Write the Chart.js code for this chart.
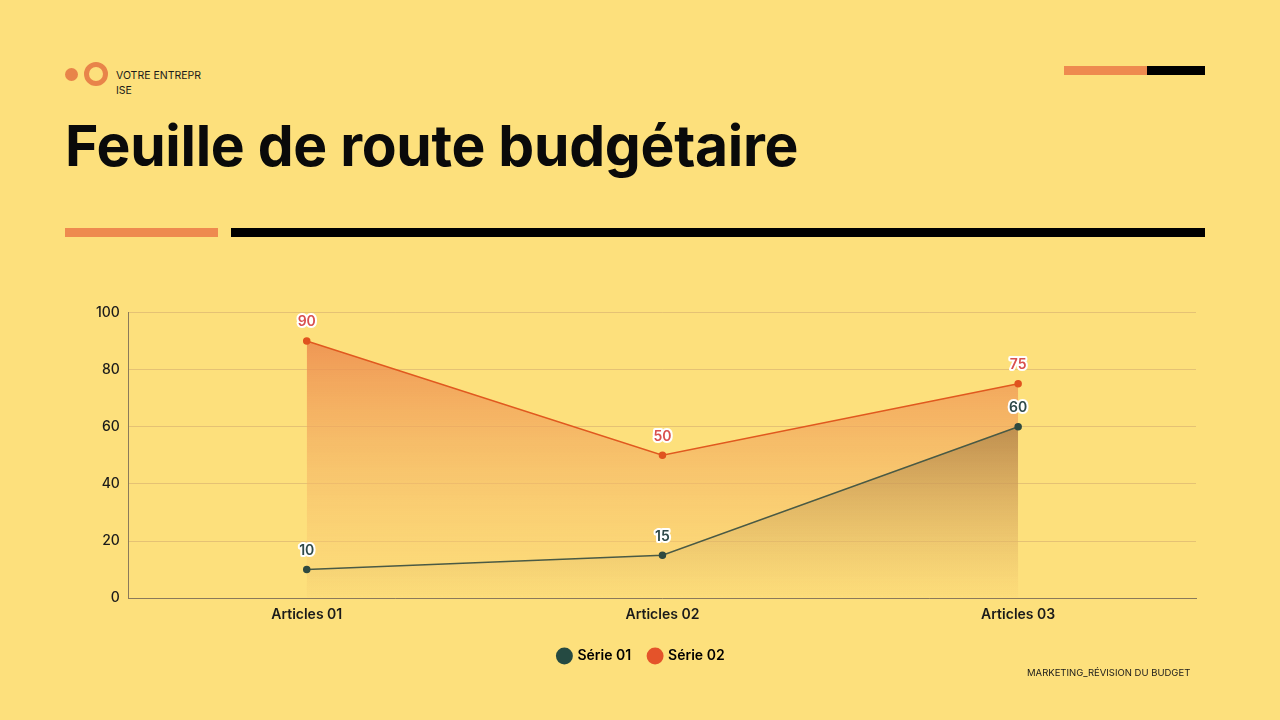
<!DOCTYPE html>
<html>
<head>
<meta charset="utf-8">
<script src="https://cdn.jsdelivr.net/npm/chart.js@4/dist/chart.umd.min.js"></script>
<style>
  body { margin: 0; width: 1280px; height: 720px; background: #fde07c; position: relative; overflow: hidden; font-family: Inter, "Noto Sans", sans-serif; }
  .dot { position: absolute; left: 65px; top: 68px; width: 13px; height: 13px; border-radius: 50%; background: #e8844a; }
  .ring { position: absolute; left: 84px; top: 62px; width: 14px; height: 14px; border-radius: 50%; border: 5px solid #e8844a; }
  .brand { position: absolute; left: 116px; top: 68px; font-size: 10.5px; line-height: 15px; color: #1a1a1a; width: 100px; }
  .titre { position: absolute; left: 65px; top: 111px; font-size: 57px; font-weight: 700; color: #0a0a0a; letter-spacing: -0.3px; margin: 0; line-height: 70px; }
  .barre { position: absolute; height: 9px; }
  .pied { position: absolute; left: 1027px; top: 667px; font-size: 9.5px; color: #1a1a1a; }
  #zone { position: absolute; left: 87px; top: 295px; width: 1123px; height: 378px; }
</style>
</head>
<body>
<div class="dot"></div>
<div class="ring"></div>
<div class="brand">VOTRE ENTREPR<br>ISE</div>
<div class="barre" style="left:1064px;top:66px;width:83px;background:#ee8a4f"></div>
<div class="barre" style="left:1147px;top:66px;width:58px;background:#000"></div>
<h1 class="titre">Feuille de route budgétaire</h1>
<div class="barre" style="left:65px;top:228px;width:153px;background:#ee8a4f"></div>
<div class="barre" style="left:231px;top:228px;width:974px;background:#000"></div>
<div id="zone"><canvas id="grafica"></canvas></div>
<div class="pied">MARKETING_RÉVISION DU BUDGET</div>
<script>
const categories = ["Articles 01", "Articles 02", "Articles 03"];
const serie01 = [10, 15, 60];
const serie02 = [90, 50, 75];
const ticksY = [0, 20, 40, 60, 80, 100];

function degrade(ctx, area, haut, bas) {
  const g = ctx.createLinearGradient(0, area.top, 0, area.bottom);
  g.addColorStop(0, haut);
  g.addColorStop(1, bas);
  return g;
}

const etiquettes = {
  id: "etiquettes",
  afterDatasetsDraw(chart) {
    const ctx = chart.ctx;
    const couleurs = ["#2f4a4a", "#d9504e"];
    chart.data.datasets.forEach((ds, i) => {
      chart.getDatasetMeta(i).data.forEach((pt, j) => {
        ctx.save();
        ctx.font = "600 14px Inter, sans-serif";
        ctx.textAlign = "center";
        ctx.textBaseline = "bottom";
        ctx.lineWidth = 4;
        ctx.lineJoin = "round";
        ctx.strokeStyle = "#ffffff";
        ctx.strokeText(ds.data[j], pt.x, pt.y - 12);
        ctx.fillStyle = couleurs[i];
        ctx.fillText(ds.data[j], pt.x, pt.y - 12);
        ctx.restore();
      });
    });
  }
};

new Chart(document.getElementById("grafica"), {
  type: "line",
  data: {
    labels: categories,
    datasets: [
      {
        label: "Série 01",
        data: serie01,
        borderColor: "#4a5a45",
        borderWidth: 1.5,
        pointBackgroundColor: "#2f4a40",
        pointBorderColor: "#2f4a40",
        pointRadius: 3,
        fill: "origin",
        backgroundColor: c => {
          const a = c.chart.chartArea;
          if (!a) return "rgba(0,0,0,0)";
          return degrade(c.chart.ctx, a, "rgba(115,80,45,0.95)", "rgba(200,160,90,0.0)");
        },
        order: 1
      },
      {
        label: "Série 02",
        data: serie02,
        borderColor: "#e0591f",
        borderWidth: 1.5,
        pointBackgroundColor: "#e0531f",
        pointBorderColor: "#e0531f",
        pointRadius: 3,
        fill: "origin",
        backgroundColor: c => {
          const a = c.chart.chartArea;
          if (!a) return "rgba(0,0,0,0)";
          return degrade(c.chart.ctx, a, "rgba(234,128,72,0.9)", "rgba(252,215,120,0.3)");
        },
        order: 2
      }
    ]
  },
  options: {
    responsive: true,
    maintainAspectRatio: false,
    animation: false,
    layout: { padding: { top: 12, right: 14 } },
    plugins: {
      legend: {
        position: "bottom",
        labels: {
          usePointStyle: true,
          pointStyle: "circle",
          boxWidth: 12,
          boxHeight: 12,
          color: "#1a1a1a",
          padding: 18,
          font: { family: "Inter", size: 14, weight: "600" },
          generateLabels: chart => chart.data.datasets.map((ds, i) => ({
            text: ds.label,
            fillStyle: ["#254a42", "#e4532a"][i],
            strokeStyle: ["#254a42", "#e4532a"][i],
            lineWidth: 0,
            pointStyle: "circle",
            datasetIndex: i
          }))
        }
      },
      tooltip: { enabled: false }
    },
    scales: {
      x: {
        offset: true,
        grid: { display: false, drawTicks: false },
        border: { color: "#8a7a5a", width: 1 },
        ticks: { color: "#1a1a1a", padding: 8, font: { family: "Inter", size: 14, weight: "600" } }
      },
      y: {
        min: 0,
        max: 100,
        afterBuildTicks: axe => { axe.ticks = ticksY.map(v => ({ value: v })); },
        grid: { color: "rgba(210,170,110,0.55)", drawTicks: false },
        border: { color: "#8a7a5a", width: 1 },
        ticks: { color: "#1a1a1a", padding: 9, font: { family: "Inter", size: 14, weight: "500" } }
      }
    }
  },
  plugins: [etiquettes]
});
</script>
</body>
</html>
